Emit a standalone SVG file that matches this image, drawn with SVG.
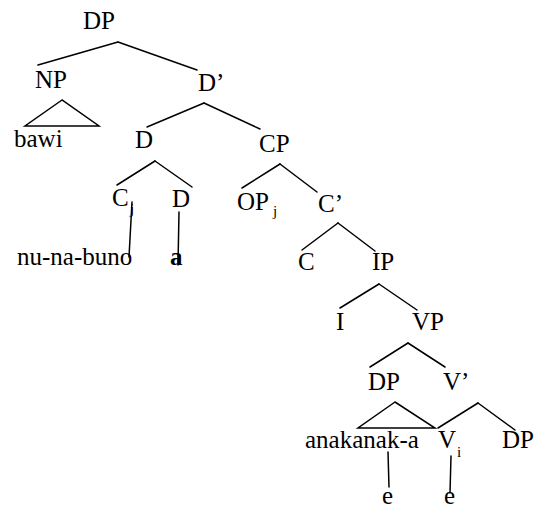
<svg xmlns="http://www.w3.org/2000/svg" width="534" height="508" viewBox="0 0 534 508" font-family="Liberation Serif, DejaVu Serif, serif">
<style>
text{font-family:'Liberation Serif','DejaVu Serif',serif;font-size:25px;fill:#000}
.sub{font-size:15px}
.b{font-weight:bold}
line,polygon{stroke:#000;stroke-width:1.5;fill:none;stroke-linecap:round}
</style>
<rect width="534" height="508" fill="#fff"/>
<g id="connectors">
<line x1="118" y1="42" x2="38" y2="65"/>
<line x1="118" y1="42" x2="197" y2="70"/>
<polygon points="62,100 25,126 99,126"/>
<line x1="204" y1="103" x2="147" y2="127"/>
<line x1="204" y1="103" x2="260" y2="129"/>
<line x1="155" y1="161" x2="117" y2="185"/>
<line x1="155" y1="161" x2="192" y2="187"/>
<line x1="280" y1="164" x2="242" y2="188"/>
<line x1="280" y1="164" x2="317" y2="192"/>
<line x1="132" y1="202" x2="129" y2="257"/>
<line x1="179" y1="212" x2="178" y2="265"/>
<line x1="338" y1="223" x2="302" y2="250"/>
<line x1="338" y1="223" x2="375" y2="251"/>
<line x1="379" y1="284" x2="340" y2="308"/>
<line x1="379" y1="284" x2="417" y2="310"/>
<line x1="408" y1="343" x2="370" y2="367"/>
<line x1="408" y1="343" x2="445" y2="367"/>
<polygon points="395,402 358,428 435,428"/>
<line x1="478" y1="403" x2="438" y2="428"/>
<line x1="478" y1="403" x2="515" y2="430"/>
<line x1="388" y1="452" x2="389" y2="487"/>
<line x1="451" y1="456" x2="450" y2="493"/>
</g>
<g id="n-DP"><text x="83" y="29">DP</text></g>
<g id="n-NP"><text x="35" y="88">NP</text></g>
<g id="n-bawi"><text x="14" y="147">bawi</text></g>
<g id="n-Dbar"><text x="198" y="91">D’</text></g>
<g id="n-D"><text x="135" y="148">D</text></g>
<g id="n-CP"><text x="259" y="152">CP</text></g>
<g id="n-Cj"><text x="112" y="206">C</text><text class="sub" x="130" y="214">j</text></g>
<g id="n-D2"><text x="172" y="207">D</text></g>
<g id="n-nunabuno"><text x="17" y="265">nu-na-buno</text></g>
<g id="n-a"><text class="b" x="170" y="265">a</text></g>
<g id="n-OPj"><text x="237" y="210">OP</text><text class="sub" x="273" y="216">j</text></g>
<g id="n-Cbar"><text x="318" y="212">C’</text></g>
<g id="n-C"><text x="298" y="270">C</text></g>
<g id="n-IP"><text x="372" y="270">IP</text></g>
<g id="n-I"><text x="336" y="330">I</text></g>
<g id="n-VP"><text x="412" y="330">VP</text></g>
<g id="n-DP2"><text x="368" y="390">DP</text></g>
<g id="n-Vbar"><text x="443" y="390">V’</text></g>
<g id="n-anakanak"><text x="305" y="448">anakanak-a</text></g>
<g id="n-Vi"><text x="438" y="448">V</text><text class="sub" x="457" y="457">i</text></g>
<g id="n-DP3"><text x="502" y="448">DP</text></g>
<g id="n-e1"><text x="382" y="504">e</text></g>
<g id="n-e2"><text x="444" y="504">e</text></g>
</svg>
